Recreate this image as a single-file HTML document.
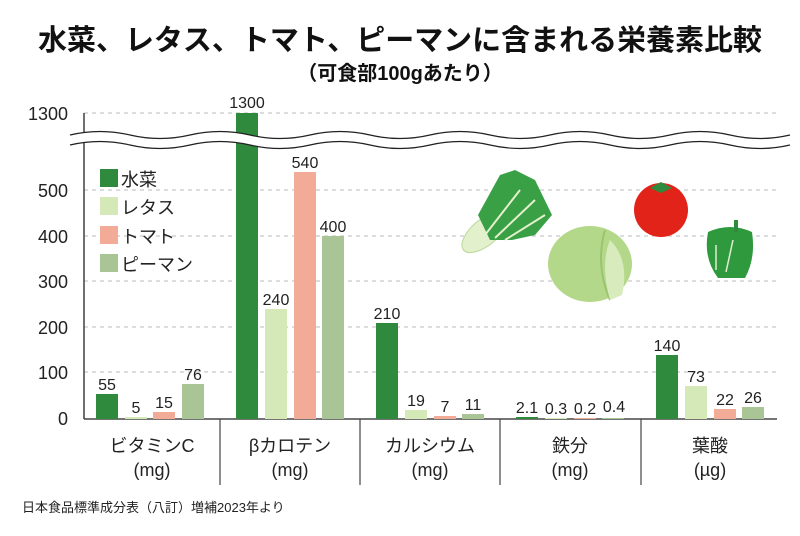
<!DOCTYPE html>
<html><head><meta charset="utf-8"><style>
body{margin:0;background:#fff;}
svg text{font-family:"Liberation Sans","Noto Sans CJK JP",sans-serif;}
</style></head><body>
<svg width="800" height="531" viewBox="0 0 800 531" xmlns="http://www.w3.org/2000/svg">
<text x="400" y="50" text-anchor="middle" font-size="29" font-weight="bold" fill="#111" textLength="724" lengthAdjust="spacingAndGlyphs">水菜、レタス、トマト、ピーマンに含まれる栄養素比較</text>
<text x="400" y="80" text-anchor="middle" font-size="20" font-weight="bold" fill="#111">（可食部100gあたり）</text>
<g stroke="#bbb" stroke-dasharray="4,4" stroke-width="1">
<line x1="84" y1="113" x2="777" y2="113"/><line x1="84" y1="190" x2="777" y2="190"/>
<line x1="84" y1="236" x2="777" y2="236"/><line x1="84" y1="281" x2="777" y2="281"/>
<line x1="84" y1="327" x2="777" y2="327"/><line x1="84" y1="372" x2="777" y2="372"/>
</g>
<g font-size="18" fill="#222" text-anchor="end">
<text x="68" y="120">1300</text><text x="68" y="197">500</text><text x="68" y="243">400</text>
<text x="68" y="288">300</text><text x="68" y="334">200</text><text x="68" y="379">100</text><text x="68" y="425">0</text>
</g>
<line x1="84" y1="113" x2="84" y2="419" stroke="#222" stroke-width="1.3"/>
<line x1="84" y1="419" x2="777" y2="419" stroke="#222" stroke-width="1.3"/>
<g stroke="#444" stroke-width="1.2"><line x1="220" y1="419" x2="220" y2="485"/><line x1="360" y1="419" x2="360" y2="485"/><line x1="500" y1="419" x2="500" y2="485"/><line x1="641" y1="419" x2="641" y2="485"/></g>
<g>
<rect x="96" y="394" width="22" height="25" fill="#2f8a3d"/><rect x="125" y="417" width="22" height="2" fill="#d5e8b8"/><rect x="153" y="412" width="22" height="7" fill="#f2ab96"/><rect x="182" y="384" width="22" height="35" fill="#a9c495"/>
<rect x="236" y="113" width="22" height="306" fill="#2f8a3d"/><rect x="265" y="309" width="22" height="110" fill="#d5e8b8"/><rect x="294" y="172" width="22" height="247" fill="#f2ab96"/><rect x="322" y="236" width="22" height="183" fill="#a9c495"/>
<rect x="376" y="323" width="22" height="96" fill="#2f8a3d"/><rect x="405" y="410" width="22" height="9" fill="#d5e8b8"/><rect x="434" y="416" width="22" height="3" fill="#f2ab96"/><rect x="462" y="414" width="22" height="5" fill="#a9c495"/>
<rect x="516" y="417" width="22" height="2" fill="#2f8a3d"/><rect x="545" y="418" width="22" height="1" fill="#d5e8b8"/><rect x="574" y="418" width="22" height="1" fill="#f2ab96"/><rect x="602" y="418" width="22" height="1" fill="#a9c495"/>
<rect x="656" y="355" width="22" height="64" fill="#2f8a3d"/><rect x="685" y="386" width="22" height="33" fill="#d5e8b8"/><rect x="714" y="409" width="22" height="10" fill="#f2ab96"/><rect x="742" y="407" width="22" height="12" fill="#a9c495"/>
</g>
<path d="M70,135 Q100,128 130,135 T190,135 T250,135 T310,135 T370,135 T430,135 T490,135 T550,135 T610,135 T670,135 T730,135 T790,135 L790,145 Q760,152 730,145 T670,145 T610,145 T550,145 T490,145 T430,145 T370,145 T310,145 T250,145 T190,145 T130,145 T70,145 Z" fill="#fff" stroke="none"/>
<path d="M70,135 Q100,128 130,135 T190,135 T250,135 T310,135 T370,135 T430,135 T490,135 T550,135 T610,135 T670,135 T730,135 T790,135" fill="none" stroke="#222" stroke-width="1.2"/>
<path d="M70,145 Q100,138 130,145 T190,145 T250,145 T310,145 T370,145 T430,145 T490,145 T550,145 T610,145 T670,145 T730,145 T790,145" fill="none" stroke="#222" stroke-width="1.2"/>
<g font-size="16" fill="#222" text-anchor="middle">
<text x="107" y="390">55</text><text x="136" y="413">5</text><text x="164" y="408">15</text><text x="193" y="380">76</text>
<text x="247" y="108">1300</text><text x="276" y="305">240</text><text x="305" y="168">540</text><text x="333" y="232">400</text>
<text x="387" y="319">210</text><text x="416" y="406">19</text><text x="445" y="412">7</text><text x="473" y="410">11</text>
<text x="527" y="413">2.1</text><text x="556" y="414">0.3</text><text x="585" y="414">0.2</text><text x="614" y="412">0.4</text>
<text x="667" y="351">140</text><text x="696" y="382">73</text><text x="725" y="405">22</text><text x="753" y="403">26</text>
</g>
<g font-size="18" fill="#222">
<rect x="100" y="169" width="18" height="18" fill="#2f8a3d"/><text x="121" y="186">水菜</text>
<rect x="100" y="197" width="18" height="18" fill="#d5e8b8"/><text x="121" y="214">レタス</text>
<rect x="100" y="226" width="18" height="18" fill="#f2ab96"/><text x="121" y="243">トマト</text>
<rect x="100" y="254" width="18" height="18" fill="#a9c495"/><text x="121" y="271">ピーマン</text>
</g>
<g font-size="18" fill="#222" text-anchor="middle">
<text x="152" y="452">ビタミンC</text><text x="152" y="476">(mg)</text>
<text x="290" y="452">βカロテン</text><text x="290" y="476">(mg)</text>
<text x="430" y="452">カルシウム</text><text x="430" y="476">(mg)</text>
<text x="570" y="452">鉄分</text><text x="570" y="476">(mg)</text>
<text x="710" y="452">葉酸</text><text x="710" y="476">(µg)</text>
</g>
<text x="22" y="512" font-size="13" fill="#222">日本食品標準成分表（八訂）増補2023年より</text>
<g>
<ellipse cx="485" cy="232" rx="28" ry="13" transform="rotate(-40 485 232)" fill="#e3f0cc" stroke="#b9d79a"/>
<path d="M478,215 L500,175 L515,170 L535,180 L552,215 L535,235 L512,240 L490,240 Z" fill="#3aa046"/>
<path d="M485,235 L520,190 M495,238 L535,200 M505,240 L545,215" stroke="#e3f0cc" stroke-width="2"/>
<ellipse cx="590" cy="264" rx="42" ry="38" fill="#b4d88a"/>
<path d="M605,230 Q595,265 610,300" stroke="#9cc46e" fill="none" stroke-width="2"/>
<path d="M610,240 Q630,260 622,295 L610,300 Q600,265 610,240 Z" fill="#d8ebbd"/>
<circle cx="661" cy="210" r="27" fill="#e2231a"/>
<path d="M650,188 L661,182 L672,188 L661,193 Z" fill="#2f8a3d"/>
<path d="M708,232 Q730,222 752,232 Q756,258 745,278 L718,278 Q703,258 708,232 Z" fill="#2f9a3d"/>
<rect x="734" y="220" width="4" height="12" fill="#2f8a3d"/>
<path d="M716,245 L716,270 M733,240 L726,272" stroke="#dfeecf" stroke-width="1.5"/>
</g>
</svg>
</body></html>
